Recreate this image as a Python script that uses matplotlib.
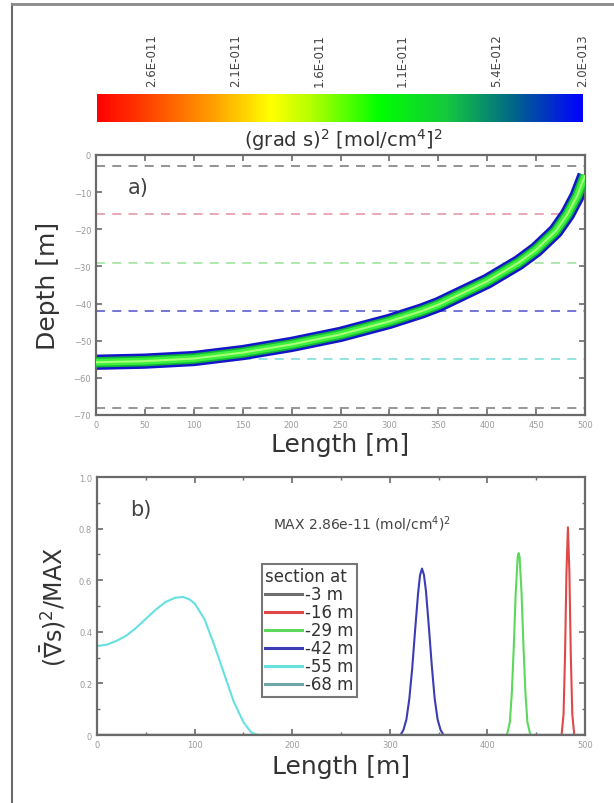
import numpy as np
import matplotlib
matplotlib.use("Agg")
import matplotlib.pyplot as plt
from matplotlib import colors as mcolors
from matplotlib.lines import Line2D

# section depths and their colours
section_depths = [-3, -16, -29, -42, -55, -68]
section_labels = ["-3 m", "-16 m", "-29 m", "-42 m", "-55 m", "-68 m"]
section_colors = ["#6e6e6e", "#e04848", "#5cd85c", "#3c3cb4", "#66e0e0", "#6fa6a6"]
dash_colors = ["#8a8a8a", "#e8a0b0", "#a8e6a8", "#6a6ad8", "#8ae2e2", "#8a9090"]

# centre line of the high gradient band (panel a)
band_length = [0, 50, 100, 150, 200, 250, 300, 333, 350, 400, 432, 450, 470, 482, 492, 500]
band_depth = [-55.8, -55.5, -54.8, -53.2, -51.0, -48.3, -44.8, -42.0, -40.3, -34.0,
              -29.0, -25.5, -20.5, -16.0, -11.0, -5.5]

# normalised squared gradient along each section (panel b)
sec_m3_x = [0, 500]
sec_m3_y = [0, 0]
sec_m16_x = [0, 476, 478, 479.5, 481, 482.5, 484, 485.5, 487, 489, 500]
sec_m16_y = [0, 0, 0.08, 0.3, 0.63, 0.805, 0.63, 0.3, 0.08, 0, 0]
sec_m29_x = [0, 420, 423, 425, 427, 429, 431, 432, 433, 435, 437, 439, 441, 444, 500]
sec_m29_y = [0, 0, 0.05, 0.16, 0.34, 0.55, 0.69, 0.705, 0.69, 0.55, 0.34, 0.16, 0.05, 0, 0]
sec_m42_x = [0, 311, 314, 317, 320, 323, 326, 329, 331, 333, 335, 337, 340, 343, 346, 349, 352, 355, 500]
sec_m42_y = [0, 0, 0.02, 0.06, 0.14, 0.26, 0.41, 0.55, 0.62, 0.645, 0.62, 0.56, 0.42, 0.27,
             0.14, 0.06, 0.02, 0, 0]
sec_m55_x = [0, 10, 20, 30, 40, 50, 60, 70, 80, 88, 95, 100, 110, 120, 130, 140, 150, 158, 165, 500]
sec_m55_y = [0.345, 0.35, 0.365, 0.385, 0.415, 0.45, 0.485, 0.515, 0.532, 0.535, 0.525, 0.51,
             0.45, 0.35, 0.24, 0.13, 0.05, 0.01, 0, 0]
sec_m68_x = [0, 500]
sec_m68_y = [0, 0]

cb_ticks = [2.6e-11, 2.1e-11, 1.6e-11, 1.1e-11, 5.4e-12, 2.0e-13]
cb_ticklabels = ["2.6E-011", "2.1E-011", "1.6E-011", "1.1E-011", "5.4E-012", "2.0E-013"]
cb_vmin, cb_vmax = 2.0e-13, 2.93e-11

W, H = 614, 804
fig = plt.figure(figsize=(W / 100, H / 100), dpi=100)
plt.rcParams['mathtext.fontset'] = 'dejavusans'

def box(l, t, r, b):
    return [l / W, 1 - b / H, (r - l) / W, (b - t) / H]

spine_c = "#6a6a6a"
tick_c = "#9a9a9a"

def style(ax):
    for s in ax.spines.values():
        s.set_color(spine_c)
        s.set_linewidth(1.6)
    ax.tick_params(which="both", direction="in", top=True, right=True,
                   color=spine_c, labelcolor=tick_c, labelsize=6)
    ax.tick_params(which="major", length=4, width=1.2)
    ax.tick_params(which="minor", length=2.5, width=1.0)

# figure frame (top and left only)
fig.add_artist(Line2D([12 / W, 12 / W], [0, 1 - 5 / H], color="#6a6a6a", lw=1.5))
fig.add_artist(Line2D([12 / W, 1], [1 - 5 / H, 1 - 5 / H], color="#8a8a8a", lw=2))

# colour bar
cmap = mcolors.LinearSegmentedColormap.from_list(
    "grad", [(0.0, "#0000ff"), (0.14, "#00648a"), (0.28, "#14c83c"), (0.42, "#00ff00"),
             (0.56, "#b4ff00"), (0.643, "#ffff00"), (0.76, "#ffa000"), (0.9, "#ff4000"),
             (1.0, "#ff0000")])
cax = fig.add_axes(box(97, 95, 583, 123))
sm = matplotlib.cm.ScalarMappable(norm=mcolors.Normalize(cb_vmin, cb_vmax), cmap=cmap)
cb = fig.colorbar(sm, cax=cax, orientation="horizontal")
cb.outline.set_visible(False)
cax.invert_xaxis()
cax.xaxis.set_ticks_position("top")
cax.set_xticks(cb_ticks)
cax.set_xticklabels(cb_ticklabels, rotation=90, fontsize=8.5, color="#444444")
cax.tick_params(length=0, pad=6)
fig.text(343 / W, 1 - 140 / H, r"(grad s)$^2$ [mol/cm$^4$]$^2$", ha="center", va="center",
         fontsize=14, color="#333333")

# panel a
ax1 = fig.add_axes(box(96, 156, 585, 416))
for d, c in zip(section_depths, dash_colors):
    ax1.axhline(d, color=c, lw=1.3, dashes=(5, 4), zorder=1)
ax1.plot(band_length, band_depth, color="#1414c8", lw=11, solid_capstyle="butt", zorder=2)
ax1.plot(band_length, band_depth, color="#12b43c", lw=7.5, solid_capstyle="butt", zorder=3)
ax1.plot(band_length, band_depth, color="#3cf03c", lw=5, solid_capstyle="butt", zorder=4)
ax1.plot(band_length, band_depth, color="#a8ff78", lw=1.5, solid_capstyle="butt", zorder=5)
ax1.set_xlim(0, 500)
ax1.set_ylim(-70, 0)
ax1.set_xticks(np.arange(0, 501, 50))
ax1.set_yticks(np.arange(-70, 1, 10))
style(ax1)
ax1.set_xlabel("Length [m]", fontsize=18, color="#333333", labelpad=2)
ax1.set_ylabel("Depth [m]", fontsize=18, color="#333333", labelpad=10)
ax1.text(32, -8.6, "a)", fontsize=15, color="#444444", va="center")

# panel b
ax2 = fig.add_axes(box(97, 478, 585, 736))
series = [(sec_m3_x, sec_m3_y), (sec_m16_x, sec_m16_y), (sec_m29_x, sec_m29_y),
          (sec_m42_x, sec_m42_y), (sec_m55_x, sec_m55_y), (sec_m68_x, sec_m68_y)]
for (x, y), c, lab in zip(series, section_colors, section_labels):
    ax2.plot(x, y, color=c, lw=1.5, label=lab)
ax2.set_xlim(0, 500)
ax2.set_ylim(0, 1.0)
ax2.set_xticks(np.arange(0, 501, 100))
ax2.set_xticks(np.arange(0, 501, 50), minor=True)
ax2.set_yticks([0, 0.2, 0.4, 0.6, 0.8, 1.0])
ax2.set_yticklabels(["0", "0.2", "0.4", "0.6", "0.8", "1.0"])
ax2.set_yticks(np.arange(0, 1.01, 0.1), minor=True)
style(ax2)
ax2.set_xlabel("Length [m]", fontsize=18, color="#333333", labelpad=4)
ax2.set_ylabel(r"$(\bar{\nabla}\mathsf{s})^2\mathsf{/MAX}$", fontsize=17, color="#333333", labelpad=8)
ax2.text(34, 0.876, "b)", fontsize=15, color="#444444", va="center")
ax2.text(362 / W, 1 - 524 / H, r"MAX 2.86e-11 (mol/cm$^4$)$^2$", transform=fig.transFigure,
         fontsize=10, color="#444444", ha="center", va="center")
leg = ax2.legend(loc="upper left", bbox_to_anchor=((262 - 97) / 488, 1 - (565 - 478) / 258),
                 title="section at", fontsize=12, title_fontsize=12, frameon=True, fancybox=False,
                 borderpad=0.2, labelspacing=0.0, handlelength=2.2, handletextpad=0.2,
                 borderaxespad=0)
leg._legend_box.align = "left"
leg.get_frame().set_edgecolor("#555555")
leg.get_frame().set_linewidth(1.5)
for t in leg.get_texts():
    t.set_color("#333333")
leg.get_title().set_color("#333333")
for h in leg.legend_handles:
    h.set_linewidth(2.2)

fig.savefig("out.png", dpi=100)
